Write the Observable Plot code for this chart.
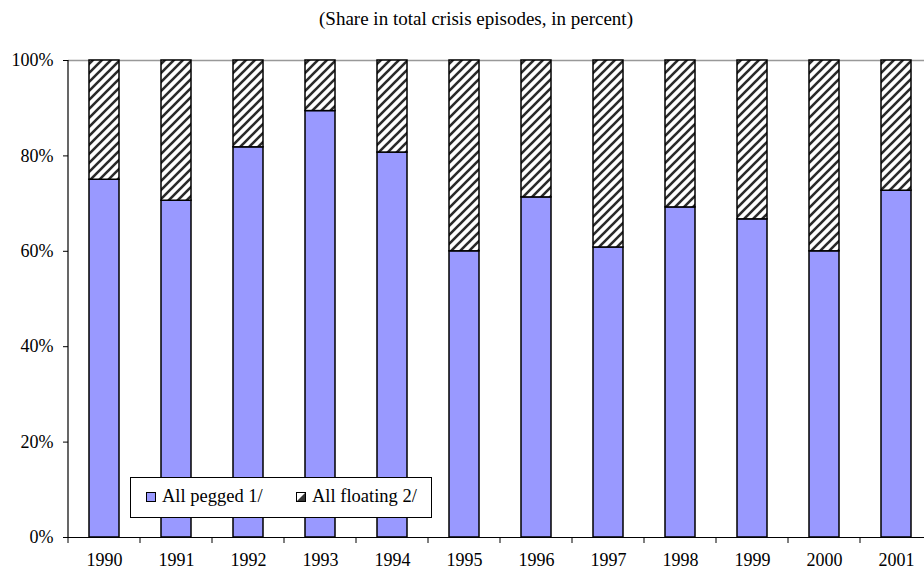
<!DOCTYPE html>
<html>
<head>
<meta charset="utf-8">
<script src="https://cdn.jsdelivr.net/npm/d3@7"></script>
<script src="https://cdn.jsdelivr.net/npm/@observablehq/plot@0.6"></script>
<style>
  html, body { margin: 0; padding: 0; background: white; overflow: hidden; }
  #wrap { position: relative; width: 924px; height: 572px; font-family: 'Liberation Serif', 'Times New Roman', serif; }
  #title { position: absolute; left: 0; top: 8px; width: 952px; text-align: center; font-size: 19px; color: #000; }
  #legend { position: absolute; left: 130px; top: 477px; width: 302px; height: 41px; box-sizing: border-box;
    border: 1px solid #000; background: white; font-size: 18.5px; }
  .item { display: flex; align-items: center; position: absolute; top: 8px; }
  .sw { width: 8px; height: 8px; border: 1.5px solid #000; margin-right: 6px; }
  svg { overflow: visible; }
  svg text { font-family: 'Liberation Serif', 'Times New Roman', serif; }
</style>
</head>
<body>
<div id="wrap">
  <div id="chart"></div>
  <div id="title">(Share in total crisis episodes, in percent)</div>
  <div id="legend"></div>
</div>
<script>
const years = [1990, 1991, 1992, 1993, 1994, 1995, 1996, 1997, 1998, 1999, 2000, 2001];
const pegged = [75.0, 70.6, 81.8, 89.4, 80.7, 60.0, 71.3, 60.8, 69.2, 66.7, 60.0, 72.7];
const floating = pegged.map(v => 100 - v);
const seriesNames = ["All pegged 1/", "All floating 2/"];
const seriesColors = ["#9999ff", "url(#hatch)"];
const yTicks = [0, 20, 40, 60, 80, 100];

const data = [];
years.forEach((yr, i) => {
  data.push({year: yr, series: seriesNames[0], value: pegged[i]});
  data.push({year: yr, series: seriesNames[1], value: floating[i]});
});

const boundaryTicks = (index, scales, values, dims) => {
  const g = d3.create("svg:g");
  const sx = scales.x;
  const bw = typeof sx.bandwidth === "function" ? sx.bandwidth() : sx.bandwidth;
  const step = typeof sx.step === "function" ? sx.step() : sx.step;
  const y0 = scales.y(0);
  years.forEach(yr => {
    const xb = sx(yr) + bw / 2 - step / 2;
    g.append("line").attr("x1", xb).attr("x2", xb).attr("y1", y0).attr("y2", y0 + 6)
      .attr("stroke", "#000").attr("stroke-width", 1);
  });
  g.append("line").attr("x1", dims.marginLeft).attr("x2", dims.marginLeft)
    .attr("y1", scales.y(100)).attr("y2", y0).attr("stroke", "#000").attr("stroke-width", 1.2);
  return g.node();
};

const chart = Plot.plot({
  width: 924,
  height: 572,
  marginLeft: 68,
  marginRight: 0,
  marginTop: 60,
  marginBottom: 35,
  style: {fontSize: "18px", color: "#000", background: "white", fontFamily: "'Liberation Serif', 'Times New Roman', serif"},
  x: {domain: years, range: [68, 932], paddingInner: 0.58, paddingOuter: 0.29, label: null},
  y: {domain: [0, 100], label: null},
  color: {domain: seriesNames, range: seriesColors},
  marks: [
    Plot.ruleY([100], {stroke: "#999", strokeWidth: 1.5}),
    Plot.barY(data, {x: "year", y: "value", fill: "series", stroke: "#000", strokeWidth: 1.5, order: seriesNames}),
    Plot.ruleY([0], {stroke: "#000", strokeWidth: 1.2}),
    Plot.axisY({ticks: yTicks, tickFormat: d => d + "%", tickSize: 5, tickPadding: 10, fontSize: 18, stroke: "#000"}),
    Plot.axisX({tickSize: 0, tickPadding: 16, fontSize: 18, tickFormat: d => String(d)}),
    boundaryTicks
  ]
});

const svg = d3.select(chart);
const defs = svg.insert("defs", ":first-child");
const pat = defs.append("pattern").attr("id", "hatch").attr("patternUnits", "userSpaceOnUse")
  .attr("width", 9).attr("height", 9);
pat.append("rect").attr("width", 9).attr("height", 9).attr("fill", "white");
pat.append("path").attr("d", "M0,9 L9,0 M-3,3 L3,-3 M6,12 L12,6")
  .attr("stroke", "#2a2a2a").attr("stroke-width", 2.6);

document.getElementById("chart").appendChild(chart);

const legend = document.getElementById("legend");
seriesNames.forEach((name, i) => {
  const it = document.createElement("div");
  it.className = "item";
  it.style.left = (i === 0 ? 15 : 165) + "px";
  const sw = document.createElement("div");
  sw.className = "sw";
  if (i === 0) sw.style.background = seriesColors[0];
  else sw.style.background = "linear-gradient(135deg, #fff 0%, #fff 45%, #333 55%, #333 100%)";
  const tx = document.createElement("span");
  tx.textContent = name;
  it.appendChild(sw); it.appendChild(tx);
  legend.appendChild(it);
});
</script>
</body>
</html>
